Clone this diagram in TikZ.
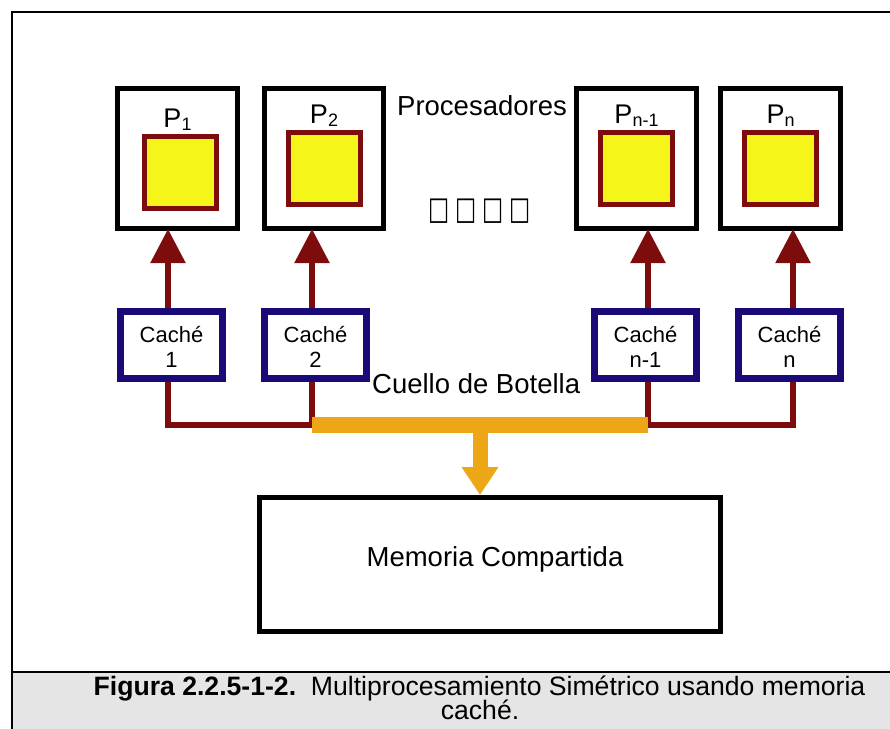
\documentclass[tikz,border=0pt]{standalone}
\usepackage{fontspec}
\setmainfont{Liberation Sans}
\newfontfamily\symfont{DejaVu Sans}
\usetikzlibrary{arrows.meta,calc}
\definecolor{pyellow}{HTML}{F5F51A}
\definecolor{pdred}{HTML}{7D0D0D}
\definecolor{cnavy}{HTML}{190A78}
\definecolor{borange}{HTML}{ECA616}
\definecolor{capgrey}{HTML}{E5E5E5}
\newcommand{\psub}[1]{\raisebox{-3pt}{\fontsize{18}{18}\selectfont #1}}
\newcommand{\sqglyph}{\scalebox{0.7}[1]{□}}
\begin{document}
\begin{tikzpicture}[x=1pt,y=-1pt,
  procbox/.style={draw=black, line width=5pt, minimum width=120pt, minimum height=140pt, inner sep=0pt},
  cpu/.style={draw=pdred, fill=pyellow, line width=5pt, minimum size=72pt, inner sep=0pt},
  cachebox/.style={draw=cnavy, line width=7pt, minimum width=102pt, minimum height=67pt, inner sep=0pt},
  membox/.style={draw=black, line width=5pt, minimum width=461pt, minimum height=134pt, inner sep=0pt},
  lbl/.style={font=\fontsize{27.5}{30}\selectfont, inner sep=0pt},
  plabel/.style={font=\fontsize{27}{30}\selectfont, inner sep=0pt, anchor=base},
  clabel/.style={font=\fontsize{22}{25}\selectfont, inner sep=0pt, anchor=base},
  caplbl/.style={font=\fontsize{26.6}{28}\selectfont, inner sep=0pt, anchor=base},
  redline/.style={draw=pdred, line width=5.5pt},
  uparrow/.style={redline, -{Triangle[length=34pt,width=34pt]}, shorten >=-2pt},
  busbar/.style={fill=borange, minimum width=336pt, minimum height=16pt, inner sep=0pt, outer sep=0pt},
  downarrow/.style={draw=borange, line width=15pt, -{Triangle[length=28pt,width=35pt]}},
  frameline/.style={draw=black, line width=1.5pt}
]
\useasboundingbox (0,0) rectangle (890,728);
% frame and caption band
\fill[capgrey] (12,672) rectangle (892,730);
\draw[frameline] (12,730) -- (12,12) -- (892,12);
\draw[frameline] (12,672) -- (892,672);

% processors
\node[procbox] (p1) at (177.5,158.5) {};
\node[procbox, minimum width=119pt] (p2) at (324,158.5) {};
\node[procbox] (pn1) at (636.5,158.5) {};
\node[procbox] (pn) at (780.5,158.5) {};
\node[cpu] (cpu1) at (180.5,172.5) {};
\node[cpu] (cpu2) at (324.5,168) {};
\node[cpu] (cpun1) at (636.5,168) {};
\node[cpu] (cpun) at (780.5,168) {};
\node[plabel] (p1l) at ([yshift=-41pt]p1.north) {P\psub{1}};
\node[plabel] (p2l) at ([yshift=-37pt]p2.north) {P\psub{2}};
\node[plabel] (pn1l) at ([yshift=-37pt]pn1.north) {P\psub{n-1}};
\node[plabel] (pnl) at ([yshift=-37pt]pn.north) {P\psub{n}};
\node[lbl, anchor=base west] (proc) at (397,115) {Procesadores};
\node[inner sep=0pt, font=\symfont\fontsize{32}{34}\selectfont] (dots) at (479.5,211) {\sqglyph\hspace{6pt}\sqglyph\hspace{6pt}\sqglyph\hspace{6pt}\sqglyph};

% caches
\node[cachebox] (c1) at (171.5,345) {};
\node[cachebox] (c2) at (315.5,345) {};
\node[cachebox] (cn1) at (645.5,345) {};
\node[cachebox] (cn) at (789.5,345) {};
\node[clabel] (c1a) at ([yshift=3pt]c1.center) {Caché};
\node[clabel] (c1b) at ([yshift=-22pt]c1.center) {1};
\node[clabel] (c2a) at ([yshift=3pt]c2.center) {Caché};
\node[clabel] (c2b) at ([yshift=-22pt]c2.center) {2};
\node[clabel] (cn1a) at ([yshift=3pt]cn1.center) {Caché};
\node[clabel] (cn1b) at ([yshift=-22pt]cn1.center) {n-1};
\node[clabel] (cna) at ([yshift=3pt]cn.center) {Caché};
\node[clabel] (cnb) at ([yshift=-22pt]cn.center) {n};

% up arrows
\draw[uparrow] ([xshift=-3.5pt]c1.north) -- ([xshift=-3.5pt]c1.north |- p1.south);
\draw[uparrow] ([xshift=-3.5pt]c2.north) -- ([xshift=-3.5pt]c2.north |- p2.south);
\draw[uparrow] ([xshift=2.5pt]cn1.north) -- ([xshift=2.5pt]cn1.north |- pn1.south);
\draw[uparrow] ([xshift=3.5pt]cn.north) -- ([xshift=3.5pt]cn.north |- pn.south);

% bus
\coordinate (busc) at (480,425);
\draw[redline] ([xshift=-3.5pt]c1.south) |- ([xshift=-168pt]busc) -- ([xshift=-3.5pt]c2.south);
\draw[redline] ([xshift=2.5pt]cn1.south) |- ([xshift=3.5pt]cn.south |- busc) -- ([xshift=3.5pt]cn.south);
\node[busbar] (bus) at (busc) {};
\node[lbl, anchor=base west] (cuello) at (372,393) {Cuello de Botella};

% memory
\node[membox] (mem) at (490,564.5) {};
\draw[downarrow] (bus.south) -- (bus.south |- mem.north);
\node[lbl, anchor=base] (meml) at ([xshift=5pt,yshift=-1.5pt]mem.center) {Memoria Compartida};

% caption
\node[caplbl] (cap1) at (479.5,695) {\textbf{Figura 2.2.5-1-2.}\ \ Multiprocesamiento Simétrico usando memoria};
\node[caplbl] (cap2) at (480,719) {caché.};
\end{tikzpicture}
\end{document}
